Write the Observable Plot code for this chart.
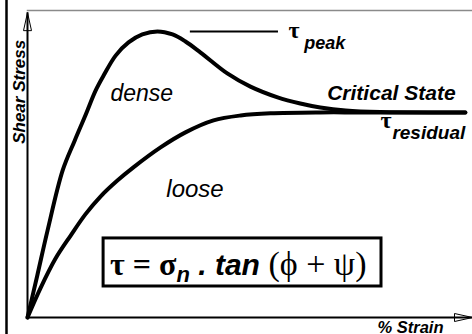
<!DOCTYPE html>
<html>
<head>
<meta charset="utf-8">
<script src="https://cdn.jsdelivr.net/npm/d3@7"></script>
<script src="https://cdn.jsdelivr.net/npm/@observablehq/plot@0.6"></script>
<style>
  body { margin: 0; background: #fff; }
  #chart { width: 472px; height: 334px; }
  #chart svg { display: block; }
</style>
</head>
<body>
<div id="chart"></div>
<script>
// Dense sand: rises to a peak strength, then softens to the critical state
const denseStrain = [0, 2.2, 4.5, 7.9, 10.6, 13.0, 15.3, 17.1, 19.8, 22.7, 25.8, 29.2, 32.6, 35.5, 38.9, 44.9, 50.1, 56.2, 61.3, 65.8, 71.5, 79.3, 98.4];
const denseStress = [0, 13.7, 28.3, 47.9, 57.6, 65.8, 73.9, 78.8, 85.3, 89.6, 92.2, 93.2, 92.2, 89.9, 86.3, 79.5, 75.2, 71.7, 69.7, 68.4, 67.4, 66.9, 66.8];

// Loose sand: hardens steadily up to the same critical state
const looseStrain = [0, 2.9, 6.3, 9.7, 13.0, 16.4, 20.2, 23.8, 29.9, 35.5, 41.8, 47.9, 54.6, 65.8, 74.8, 98.4];
const looseStress = [0, 9.5, 19.2, 26.7, 33.6, 39.4, 44.6, 48.9, 55.4, 60.3, 64.2, 65.8, 66.5, 66.8, 66.8, 66.8];

const curveNames = ["dense", "loose"];
const stateLabel = ["Critical State"];
const axisTitles = ["% Strain", "Shear Stress"];
const tauSymbol = "τ";
const tauSubscripts = ["peak", "residual"];

const tauPeak = d3.max(denseStress);
const tauResidual = denseStress[denseStress.length - 1];

const toRows = (xs, ys, name) => xs.map((x, i) => ({strain: x, stress: ys[i], soil: name}));
const curves = [
  ...toRows(denseStrain, denseStress, curveNames[0]),
  ...toRows(looseStrain, looseStress, curveNames[1])
];

// open, slender arrowhead with its tip at the origin, pointing up
const arrowHead = {
  draw(context) {
    context.moveTo(0, 0);
    context.lineTo(-4, 18);
    context.lineTo(4, 18);
    context.closePath();
  }
};

const sans = "Liberation Sans, Arial, sans-serif";
const serif = "Liberation Serif, Times New Roman, serif";
const yTop = 99.3;   // top of the stress axis
const xEnd = 100;    // end of the strain axis
const box = {x1: 17.1, x2: 79.55, y1: 10.1, y2: 25.75};

const plot = Plot.plot({
  width: 472,
  height: 334,
  marginLeft: 27,
  marginRight: 0,
  marginTop: 10,
  marginBottom: 17,
  x: {domain: [0, 100], axis: null},
  y: {domain: [0, 100], axis: null},
  style: {background: "white", overflow: "visible"},
  marks: [
    Plot.frame({anchor: "top", stroke: "#8a8a8a", strokeWidth: 1.5}),
    // axes
    Plot.ruleX([0], {y1: 0, y2: yTop, stroke: "black", strokeWidth: 2}),
    Plot.ruleY([0], {x1: 0, x2: xEnd, stroke: "black", strokeWidth: 2}),
    Plot.dot([0], {x: 0, y: yTop, symbol: arrowHead, fill: "none", stroke: "black", strokeWidth: 1}),
    Plot.dot([0], {x: xEnd, y: 0, symbol: arrowHead, rotate: 90, fill: "none", stroke: "black", strokeWidth: 1}),
    // stress–strain curves
    Plot.line(curves, {x: "strain", y: "stress", z: "soil", curve: "catmull-rom", stroke: "black", strokeWidth: 4, strokeLinecap: "round"}),
    // peak marker
    Plot.ruleY([tauPeak], {x1: 36.6, x2: 56.4, stroke: "black", strokeWidth: 2}),
    // curve labels
    Plot.text([curveNames[0]], {text: d => d, x: 18.65, y: 70.4, textAnchor: "start", lineAnchor: "bottom", fontSize: 23, fontStyle: "italic", fontFamily: sans, fill: "black"}),
    Plot.text([curveNames[1]], {text: d => d, x: 31.2, y: 39.1, textAnchor: "start", lineAnchor: "bottom", fontSize: 24, fontStyle: "italic", fontFamily: sans, fill: "black"}),
    Plot.text(stateLabel, {text: d => d, x: 96.2, y: 70.7, textAnchor: "end", lineAnchor: "bottom", fontSize: 21, fontStyle: "italic", fontWeight: "bold", fontFamily: sans, fill: "black"}),
    // τ peak and τ residual
    Plot.text([tauSymbol], {text: d => d, x: 58.65, y: 90.9, textAnchor: "start", lineAnchor: "bottom", fontSize: 24, fontWeight: "bold", fontFamily: serif, fill: "black"}),
    Plot.text([tauSubscripts[0]], {text: d => d, x: 62.2, y: 87.6, textAnchor: "start", lineAnchor: "bottom", fontSize: 18, fontStyle: "italic", fontWeight: "bold", fontFamily: sans, fill: "black"}),
    Plot.text([tauSymbol], {text: d => d, x: 79.3, y: 61.6, textAnchor: "start", lineAnchor: "bottom", fontSize: 24, fontWeight: "bold", fontFamily: serif, fill: "black"}),
    Plot.text([tauSubscripts[1]], {text: d => d, x: 82.0, y: 58.3, textAnchor: "start", lineAnchor: "bottom", fontSize: 19, fontStyle: "italic", fontWeight: "bold", fontFamily: sans, fill: "black"}),
    // axis titles
    Plot.text([axisTitles[0]], {text: d => d, x: 78.65, y: -4.9, textAnchor: "start", lineAnchor: "bottom", fontSize: 16.5, fontStyle: "italic", fontWeight: "bold", fontFamily: sans, fill: "black"}),
    Plot.text([axisTitles[1]], {text: d => d, x: -0.45, y: 73.5, rotate: -90, textAnchor: "middle", lineAnchor: "bottom", fontSize: 17, fontStyle: "italic", fontWeight: "bold", fontFamily: sans, fill: "black"}),
    // formula box
    Plot.rect([box], {x1: "x1", x2: "x2", y1: "y1", y2: "y2", fill: "white", stroke: "black", strokeWidth: 3})
  ]
});

const svg = d3.select(plot);

// left border of the figure
svg.append("line")
  .attr("x1", 6.5).attr("x2", 6.5).attr("y1", 0).attr("y2", 334)
  .attr("stroke", "black").attr("stroke-width", 2.5);

// τ = σn . tan (ϕ + ψ)
const sx = plot.scale("x"), sy = plot.scale("y");
const formula = svg.append("text")
  .attr("x", sx.apply(box.x1) + 7)
  .attr("y", sy.apply(13.7))
  .attr("text-anchor", "start")
  .attr("fill", "black");
const parts = [
  {t: "τ = σ", family: serif, size: 32, weight: "bold", style: "normal"},
  {t: "n", family: sans, size: 22, weight: "bold", style: "italic", dy: 7},
  {t: " . tan", family: sans, size: 30, weight: "bold", style: "italic", dy: -7},
  {t: " (ϕ + ψ)", family: serif, size: 34, weight: "normal", style: "normal"}
];
parts.forEach(p => {
  formula.append("tspan")
    .attr("dy", p.dy || 0)
    .attr("font-family", p.family)
    .attr("font-size", p.size)
    .attr("font-weight", p.weight)
    .attr("font-style", p.style)
    .style("white-space", "pre")
    .text(p.t);
});

document.getElementById("chart").appendChild(plot);
</script>
</body>
</html>
